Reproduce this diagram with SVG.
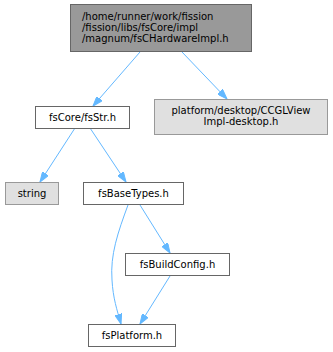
<svg xmlns="http://www.w3.org/2000/svg" width="333" height="352" viewBox="0 0 333 352">
<defs>
<style>
.n rect{stroke:#666666;stroke-width:1;fill:#ffffff}
.n.g rect{fill:#e0e0e0;stroke:#999999}
.n.top rect{fill:#999999;stroke:#666666}
text{font-family:"DejaVu Sans","Liberation Sans",sans-serif;font-size:10px;fill:#000000}
.c{text-anchor:middle}
.e path{fill:none;stroke:#63b8ff;stroke-width:1}
</style>
<marker id="ah" viewBox="0 0 10 7" refX="10" refY="3.5" markerWidth="10" markerHeight="7" markerUnits="userSpaceOnUse" orient="auto">
<path d="M0,0 L10,3.5 L0,7 Z" fill="#63b8ff" stroke="#63b8ff" stroke-width="1"/>
</marker>
</defs>
<rect width="333" height="352" fill="#ffffff"/>
<g class="e">
<path d="M140,52 L93,106" marker-end="url(#ah)"/>
<path d="M182,52 L227,99" marker-end="url(#ah)"/>
<path d="M75,128 L40,182" marker-end="url(#ah)"/>
<path d="M90,128 L126,182" marker-end="url(#ah)"/>
<path d="M128,205 C118,232 110,255 112,280 C113,298 117,310 121,324" marker-end="url(#ah)"/>
<path d="M140,205 L170,253" marker-end="url(#ah)"/>
<path d="M170,276 L140,324" marker-end="url(#ah)"/>
</g>
<g id="node1" class="n top">
<rect x="70.5" y="4.5" width="181" height="47"/>
<text x="82" y="19.5">/home/runner/work/fission</text>
<text x="82" y="30.5">/fission/libs/fsCore/impl</text>
<text x="82" y="41.5">/magnum/fsCHardwareImpl.h</text>
</g>
<g id="node2" class="n">
<rect x="35.5" y="106.5" width="94" height="22"/>
<text class="c" x="82.5" y="120.5">fsCore/fsStr.h</text>
</g>
<g id="node3" class="n g">
<rect x="154.5" y="99.5" width="173" height="35"/>
<text class="c" x="241" y="113.5">platform/desktop/CCGLView</text>
<text class="c" x="241" y="124.5">Impl-desktop.h</text>
</g>
<g id="node4" class="n g">
<rect x="5.5" y="182.5" width="53" height="22"/>
<text class="c" x="32" y="196.5">string</text>
</g>
<g id="node5" class="n">
<rect x="83.5" y="182.5" width="100" height="22"/>
<text class="c" x="133.5" y="196.5">fsBaseTypes.h</text>
</g>
<g id="node6" class="n">
<rect x="125.5" y="253.5" width="104" height="22"/>
<text class="c" x="177.5" y="267.5">fsBuildConfig.h</text>
</g>
<g id="node7" class="n">
<rect x="88.5" y="324.5" width="87" height="22"/>
<text class="c" x="132" y="338.5">fsPlatform.h</text>
</g>
</svg>
